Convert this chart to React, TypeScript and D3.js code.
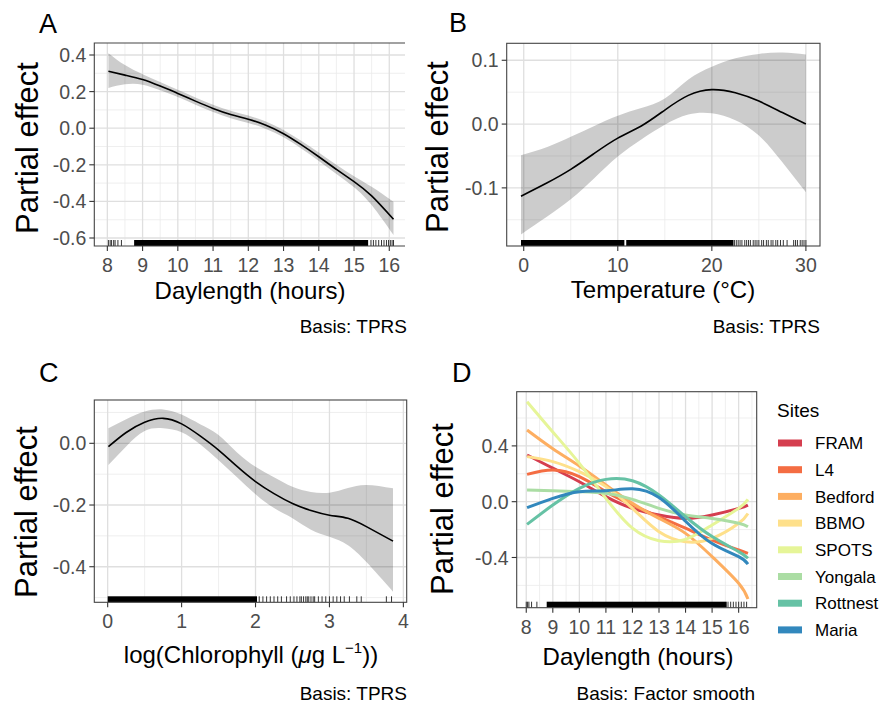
import React from 'react';
import * as d3 from 'd3';

const FONT = '"Liberation Sans", Arial, Helvetica, sans-serif';

// ---------- Panel A: Daylength ----------
const dayA = [8.03, 8.5, 9, 9.5, 10, 10.5, 11, 11.5, 12, 12.5, 13, 13.5, 14, 14.5, 15, 15.5, 16.12];
const fitA = [0.311, 0.29, 0.266, 0.23, 0.19, 0.148, 0.108, 0.075, 0.049, 0.016, -0.03, -0.09, -0.156, -0.225, -0.292, -0.37, -0.498];
const loA = [0.22, 0.24, 0.238, 0.207, 0.17, 0.128, 0.088, 0.055, 0.029, -0.004, -0.05, -0.111, -0.179, -0.25, -0.322, -0.42, -0.584];
const hiA = [0.41, 0.345, 0.295, 0.253, 0.21, 0.168, 0.128, 0.095, 0.069, 0.036, -0.01, -0.069, -0.133, -0.2, -0.262, -0.32, -0.402];
const rugDenseA = [[8.76, 15.4]];
const rugTicksA = [8.03, 8.08, 8.12, 8.18, 8.22, 8.3, 8.4, 15.48, 15.55, 15.62, 15.7, 15.78, 15.85, 15.92, 15.98, 16.03, 16.08, 16.12];
const xTicksA = [8, 9, 10, 11, 12, 13, 14, 15, 16];
const yTicksA = [0.4, 0.2, 0.0, -0.2, -0.4, -0.6];

// ---------- Panel B: Temperature ----------
const tempB = [-0.29, 2.5, 5, 7.5, 10, 12.5, 15, 17.5, 20, 22.5, 25, 27.5, 30];
const fitB = [-0.113, -0.092, -0.071, -0.046, -0.022, -0.003, 0.022, 0.045, 0.054, 0.049, 0.036, 0.018, 0.0];
const loB = [-0.173, -0.145, -0.118, -0.085, -0.051, -0.024, -0.001, 0.015, 0.017, 0.006, -0.018, -0.06, -0.107];
const hiB = [-0.049, -0.036, -0.02, -0.003, 0.013, 0.025, 0.04, 0.07, 0.09, 0.103, 0.11, 0.112, 0.109];
const rugDenseB = [[-0.29, 10.7], [10.9, 22.3]];
const rugTicksB = [22.4, 22.6, 22.8, 23.0, 23.2, 23.5, 23.7, 23.9, 24.1, 24.4, 24.6, 24.8, 25.0, 25.3, 25.5, 25.8, 26.0, 26.3, 26.5, 26.8, 27.0, 27.3, 27.6, 28.0, 28.7, 28.9, 29.1, 29.4, 29.6, 29.8, 30.0];
const xTicksB = [0, 10, 20, 30];
const yTicksB = [0.1, 0.0, -0.1];

// ---------- Panel C: Chlorophyll ----------
const chlC = [0.01, 0.25, 0.5, 0.75, 1.0, 1.25, 1.5, 1.75, 2.0, 2.25, 2.5, 2.75, 3.0, 3.25, 3.5, 3.86];
const fitC = [-0.011, 0.035, 0.068, 0.081, 0.063, 0.024, -0.022, -0.075, -0.124, -0.163, -0.195, -0.218, -0.233, -0.243, -0.27, -0.317];
const loC = [-0.07, -0.01, 0.04, 0.049, 0.036, -0.003, -0.055, -0.11, -0.165, -0.21, -0.243, -0.28, -0.303, -0.33, -0.385, -0.481];
const hiC = [0.049, 0.078, 0.103, 0.11, 0.093, 0.062, 0.027, -0.03, -0.076, -0.11, -0.141, -0.158, -0.16, -0.145, -0.135, -0.146];
const rugDenseC = [[0.0, 2.02]];
const rugTicksC = [2.05, 2.1, 2.15, 2.2, 2.25, 2.3, 2.35, 2.42, 2.47, 2.52, 2.56, 2.6, 2.62, 2.65, 2.68, 2.7, 2.72, 2.75, 2.78, 2.8, 2.85, 2.9, 2.95, 3.0, 3.05, 3.1, 3.15, 3.2, 3.27, 3.37, 3.43, 3.77, 3.84];
const xTicksC = [0, 1, 2, 3, 4];
const yTicksC = [0.0, -0.2, -0.4];

// ---------- Panel D: factor smooth by site ----------
const sites = ['FRAM', 'L4', 'Bedford', 'BBMO', 'SPOTS', 'Yongala', 'Rottnest', 'Maria'];
const siteColors = ['#D53E4F', '#F46D43', '#FDAE61', '#FEE08B', '#E6F598', '#ABDDA4', '#66C2A5', '#3288BD'];
const dayD = [8.03, 9, 10, 11, 12, 13, 14, 15, 16, 16.35];
const fram = [0.335, 0.24, 0.143, 0.036, -0.048, -0.096, -0.12, -0.096, -0.048, -0.024];
const l4 = [0.196, 0.227, 0.18, 0.072, -0.024, -0.108, -0.19, -0.275, -0.346, -0.37];
const bedford = [0.514, 0.38, 0.256, 0.12, -0.012, -0.12, -0.227, -0.394, -0.585, -0.698];
const bbmo = [0.323, 0.287, 0.215, 0.108, -0.048, -0.215, -0.287, -0.263, -0.155, -0.084];
const spots = [0.717, 0.5, 0.275, 0.024, -0.19, -0.28, -0.27, -0.167, -0.048, 0.017];
const yongala = [0.084, 0.079, 0.072, 0.06, 0.017, -0.048, -0.096, -0.12, -0.155, -0.18];
const rottnest = [-0.163, -0.024, 0.096, 0.16, 0.15, 0.048, -0.108, -0.25, -0.358, -0.406];
const maria = [-0.043, 0.024, 0.072, 0.078, 0.092, 0.03, -0.14, -0.3, -0.394, -0.447];
const siteSeries = [fram, l4, bedford, bbmo, spots, yongala, rottnest, maria];
const rugDenseD = [[8.77, 15.55]];
const rugTicksD = [8.0, 8.05, 8.1, 8.2, 8.4, 15.6, 15.7, 15.8, 15.9, 16.0, 16.1, 16.2, 16.3];
const xTicksD = [8, 9, 10, 11, 12, 13, 14, 15, 16];
const yTicksD = [0.4, 0.0, -0.4];

const range = (a: number, b: number, s: number) => {
  const out: number[] = [];
  for (let v = a; v <= b + 1e-9; v += s) out.push(+v.toFixed(4));
  return out;
};

type PanelProps = {
  left: number; right: number; top: number; bottom: number;
  xDomain: [number, number]; yDomain: [number, number];
  xMajor: number[]; xMinor: number[]; yMajor: number[]; yMinor: number[];
  xTicks: number[]; yTicks: number[];
  yFmt: (v: number) => string;
  rugDense: number[][]; rugTicks: number[];
  visRight?: number;
  render: (xs: d3.ScaleLinear<number, number>, ys: d3.ScaleLinear<number, number>) => React.ReactNode;
  id: string;
};

function Panel(p: PanelProps) {
  const xs = d3.scaleLinear().domain(p.xDomain).range([p.left, p.right]);
  const ys = d3.scaleLinear().domain(p.yDomain).range([p.bottom, p.top]);
  const vr = p.visRight ?? p.right;
  const inX = (v: number) => xs(v) >= p.left - 0.1 && xs(v) <= vr + 0.1;
  const inY = (v: number) => ys(v) >= p.top - 0.1 && ys(v) <= p.bottom + 0.1;
  const rugH = 6;
  return (
    <g>
      <defs>
        <clipPath id={p.id}>
          <rect x={p.left} y={p.top} width={vr - p.left} height={p.bottom - p.top} />
        </clipPath>
      </defs>
      <rect x={p.left} y={p.top} width={vr - p.left} height={p.bottom - p.top} fill="#fff" />
      {p.xMinor.filter(inX).map((v) => (
        <line key={'xm' + v} x1={xs(v)} x2={xs(v)} y1={p.top} y2={p.bottom} stroke="#ebebeb" strokeWidth={0.8} />
      ))}
      {p.yMinor.filter(inY).map((v) => (
        <line key={'ym' + v} x1={p.left} x2={vr} y1={ys(v)} y2={ys(v)} stroke="#ebebeb" strokeWidth={0.8} />
      ))}
      {p.xMajor.filter(inX).map((v) => (
        <line key={'xM' + v} x1={xs(v)} x2={xs(v)} y1={p.top} y2={p.bottom} stroke="#dfdfdf" strokeWidth={1.3} />
      ))}
      {p.yMajor.filter(inY).map((v) => (
        <line key={'yM' + v} x1={p.left} x2={vr} y1={ys(v)} y2={ys(v)} stroke="#dfdfdf" strokeWidth={1.3} />
      ))}
      <g clipPath={`url(#${p.id})`}>
        {p.render(xs, ys)}
        {p.rugDense.map((r, i) => (
          <rect key={'rd' + i} x={xs(r[0])} y={p.bottom - rugH} width={xs(r[1]) - xs(r[0])} height={rugH} fill="#000" />
        ))}
        {p.rugTicks.map((v, i) => (
          <line key={'rt' + i} x1={xs(v)} x2={xs(v)} y1={p.bottom - rugH} y2={p.bottom} stroke="#000" strokeWidth={0.8} />
        ))}
      </g>
      {vr < p.right ? (
        <path d={`M${vr},${p.top}H${p.left}V${p.bottom}H${vr}`} fill="none" stroke="#444" strokeWidth={1.1} />
      ) : (
        <rect x={p.left} y={p.top} width={p.right - p.left} height={p.bottom - p.top} fill="none" stroke="#444" strokeWidth={1.1} />
      )}
      {p.yTicks.map((v) => (
        <g key={'yt' + v}>
          <line x1={p.left - 5} x2={p.left} y1={ys(v)} y2={ys(v)} stroke="#333" strokeWidth={1.1} />
          <text x={p.left - 8} y={ys(v)} dy="0.36em" textAnchor="end" fontSize={19.5} fill="#4d4d4d" fontFamily={FONT}>
            {p.yFmt(v)}
          </text>
        </g>
      ))}
      {p.xTicks.map((v) => (
        <g key={'xt' + v}>
          <line x1={xs(v)} x2={xs(v)} y1={p.bottom} y2={p.bottom + 5} stroke="#333" strokeWidth={1.1} />
          <text x={xs(v)} y={p.bottom + 26} textAnchor="middle" fontSize={19.5} fill="#4d4d4d" fontFamily={FONT}>
            {String(v)}
          </text>
        </g>
      ))}
    </g>
  );
}

function bandAndLine(xv: number[], fit: number[], lo: number[], hi: number[]) {
  return (xs: d3.ScaleLinear<number, number>, ys: d3.ScaleLinear<number, number>) => {
    const idx = xv.map((_, i) => i);
    const area = d3.area<number>().x((i) => xs(xv[i])).y0((i) => ys(lo[i])).y1((i) => ys(hi[i])).curve(d3.curveNatural);
    const line = d3.line<number>().x((i) => xs(xv[i])).y((i) => ys(fit[i])).curve(d3.curveNatural);
    return (
      <g>
        <path d={area(idx) || ''} fill="#000" fillOpacity={0.2} />
        <path d={line(idx) || ''} fill="none" stroke="#000" strokeWidth={1.6} />
      </g>
    );
  };
}

const f1 = (v: number) => (Math.abs(v) < 1e-9 ? '0.0' : v.toFixed(1));

function YTitle({ x, y }: { x: number; y: number }) {
  return (
    <text transform={`translate(${x},${y}) rotate(-90)`} textAnchor="middle" fontSize={31} fill="#000" fontFamily={FONT}>
      Partial effect
    </text>
  );
}

function Label({ x, y, t }: { x: number; y: number; t: string }) {
  return (
    <text x={x} y={y} fontSize={27} fill="#000" fontFamily={FONT}>{t}</text>
  );
}

export default function App() {
  const lineD = (xs: d3.ScaleLinear<number, number>, ys: d3.ScaleLinear<number, number>) => {
    const idx = dayD.map((_, i) => i);
    return (
      <g>
        {siteSeries.map((s, k) => {
          const gen = d3.line<number>().x((i) => xs(dayD[i])).y((i) => ys(s[i])).curve(d3.curveNatural);
          return <path key={sites[k]} d={gen(idx) || ''} fill="none" stroke={siteColors[k]} strokeWidth={3} strokeLinecap="butt" />;
        })}
      </g>
    );
  };

  return (
    <svg width={882} height={705} style={{ display: 'block', position: 'absolute', left: 0, top: 0 }} fontFamily={FONT}>
      <rect width={882} height={705} fill="#fff" />

      {/* Panel A */}
      <Label x={39} y={33} t="A" />
      <YTitle x={38} y={148} />
      <Panel
        id="clipA" left={94.3} right={407.6} visRight={405} top={43} bottom={246}
        xDomain={[7.63, 16.52]} yDomain={[-0.6437, 0.4656]}
        xMajor={xTicksA} xMinor={range(7.5, 16.5, 1)} yMajor={yTicksA} yMinor={range(-0.5, 0.3, 0.2)}
        xTicks={xTicksA} yTicks={yTicksA} yFmt={f1}
        rugDense={rugDenseA} rugTicks={rugTicksA}
        render={bandAndLine(dayA, fitA, loA, hiA)}
      />
      <text x={250} y={299} textAnchor="middle" fontSize={24} fontFamily={FONT}>Daylength (hours)</text>
      <text x={407} y={333} textAnchor="end" fontSize={19} fontFamily={FONT}>Basis: TPRS</text>

      {/* Panel B */}
      <Label x={449} y={32} t="B" />
      <YTitle x={448} y={147} />
      <Panel
        id="clipB" left={506.7} right={820} top={43.3} bottom={246}
        xDomain={[-1.81, 31.5]} yDomain={[-0.1911, 0.1266]}
        xMajor={xTicksB} xMinor={[5, 15, 25]} yMajor={yTicksB} yMinor={[0.05, -0.05, -0.15]}
        xTicks={xTicksB} yTicks={yTicksB} yFmt={f1}
        rugDense={rugDenseB} rugTicks={rugTicksB}
        render={bandAndLine(tempB, fitB, loB, hiB)}
      />
      <text x={663} y={298} textAnchor="middle" fontSize={24} fontFamily={FONT}>Temperature (°C)</text>
      <text x={820} y={333} textAnchor="end" fontSize={19} fontFamily={FONT}>Basis: TPRS</text>

      {/* Panel C */}
      <Label x={39} y={382} t="C" />
      <YTitle x={37} y={512} />
      <Panel
        id="clipC" left={94.3} right={406.7} top={400} bottom={602.3}
        xDomain={[-0.181, 4.045]} yDomain={[-0.5153, 0.1404]}
        xMajor={xTicksC} xMinor={[0.5, 1.5, 2.5, 3.5]} yMajor={yTicksC} yMinor={[0.1, -0.1, -0.3, -0.5]}
        xTicks={xTicksC} yTicks={yTicksC} yFmt={f1}
        rugDense={rugDenseC} rugTicks={rugTicksC}
        render={bandAndLine(chlC, fitC, loC, hiC)}
      />
      <text x={251} y={663} textAnchor="middle" fontSize={24} fontFamily={FONT}>
        <tspan>log(Chlorophyll (</tspan>
        <tspan fontStyle="italic">μ</tspan>
        <tspan>g L</tspan>
        <tspan dy={-10} fontSize={15}>−1</tspan>
        <tspan dy={10}>))</tspan>
      </text>
      <text x={407} y={700} textAnchor="end" fontSize={19} fontFamily={FONT}>Basis: TPRS</text>

      {/* Panel D */}
      <Label x={452} y={382} t="D" />
      <YTitle x={453} y={509} />
      <Panel
        id="clipD" left={516.7} right={756.7} top={391.7} bottom={607.7}
        xDomain={[7.64, 16.68]} yDomain={[-0.76, 0.7885]}
        xMajor={xTicksD} xMinor={range(7.5, 16.5, 1)} yMajor={yTicksD} yMinor={[0.6, 0.2, -0.2, -0.6]}
        xTicks={xTicksD} yTicks={yTicksD} yFmt={f1}
        rugDense={rugDenseD} rugTicks={rugTicksD}
        render={lineD}
      />
      <text x={638} y={665} textAnchor="middle" fontSize={24} fontFamily={FONT}>Daylength (hours)</text>
      <text x={755} y={700} textAnchor="end" fontSize={19} fontFamily={FONT}>Basis: Factor smooth</text>

      {/* Legend */}
      <text x={777} y={417} fontSize={19} fontFamily={FONT}>Sites</text>
      {sites.map((s, i) => (
        <g key={s}>
          <rect x={778} y={443 + i * 26.7 - 3.5} width={24} height={7} fill={siteColors[i]} />
          <text x={815} y={443 + i * 26.7} dy="0.36em" fontSize={17} fontFamily={FONT}>{s}</text>
        </g>
      ))}
    </svg>
  );
}
